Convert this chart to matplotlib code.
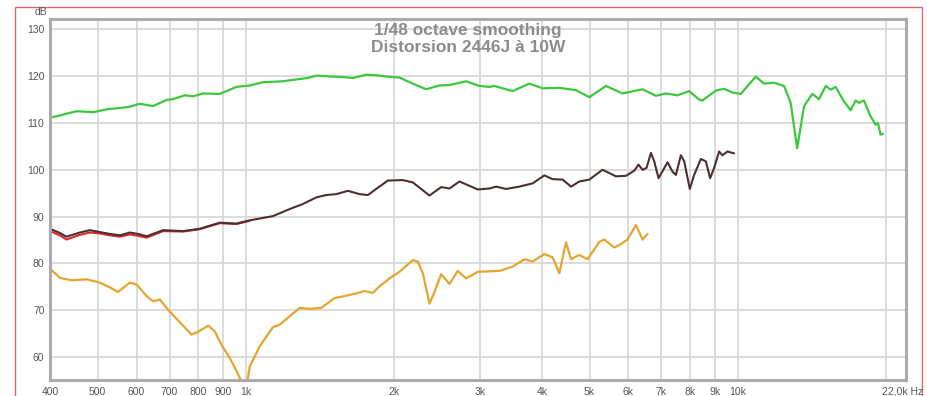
import matplotlib
matplotlib.use("Agg")
import matplotlib.pyplot as plt
from matplotlib.patches import Rectangle
from matplotlib.ticker import FixedLocator, NullLocator

# Fundamental (green)
fund_hz = [400, 426, 453, 490, 521, 555, 577, 609, 648, 690, 712, 752, 782, 819, 886,
           914, 957, 1019, 1084, 1191, 1268, 1338, 1392, 1504, 1576, 1652, 1759, 1842,
           1930, 2054, 2186, 2327, 2477, 2596, 2806, 2987, 3129, 3203, 3488, 3772, 4015,
           4341, 4693, 4995, 5400, 5836, 6409, 6823, 7150, 7548, 7971, 8352, 8482, 9031,
           9389, 9759, 10150, 10890, 11320, 11860, 12430, 12820, 13220, 13650, 14190,
           14640, 15110, 15460, 15830, 16450, 16980, 17380, 17650, 18070, 18640, 19080,
           19290, 19530, 19740]
fund_db = [111.1, 111.8, 112.5, 112.3, 112.9, 113.2, 113.4, 114.1, 113.6, 114.9, 115.1,
           115.9, 115.7, 116.3, 116.2, 116.8, 117.7, 118.0, 118.7, 118.9, 119.3, 119.6,
           120.1, 119.9, 119.8, 119.6, 120.3, 120.2, 119.9, 119.7, 118.4, 117.2, 118.0,
           118.1, 118.9, 117.9, 117.7, 117.9, 116.8, 118.4, 117.4, 117.5, 117.0, 115.5,
           117.9, 116.3, 117.2, 115.8, 116.3, 115.9, 116.8, 115.0, 114.8, 116.9, 117.3,
           116.5, 116.2, 119.9, 118.4, 118.6, 117.9, 114.3, 104.6, 113.6, 116.2, 115.1,
           117.9, 117.1, 117.7, 114.6, 112.7, 114.8, 114.3, 114.8, 111.4, 109.6, 110.0,
           107.5, 107.7]

# 2nd harmonic (brown)
h2_hz = [400, 419, 432, 460, 482, 505, 529, 555, 581, 604, 629, 679, 746, 806, 886, 957,
         1019, 1136, 1228, 1307, 1392, 1458, 1528, 1613, 1704, 1771, 1842, 1945, 2086,
         2186, 2364, 2497, 2596, 2720, 2963, 3129, 3228, 3383, 3600, 3832, 4047, 4207,
         4409, 4585, 4767, 4995, 5314, 5657, 5929, 6164, 6290, 6409, 6530, 6666, 6769,
         6907, 7205, 7374, 7492, 7669, 7789, 7997, 8160, 8420, 8619, 8794, 8960, 9172,
         9314, 9535, 9838]
h2_db = [87.4, 86.5, 85.7, 86.6, 87.1, 86.7, 86.3, 86.0, 86.6, 86.3, 85.8, 87.1, 86.9,
         87.4, 88.7, 88.5, 89.2, 90.1, 91.6, 92.7, 94.1, 94.6, 94.8, 95.5, 94.8, 94.6,
         95.9, 97.7, 97.8, 97.3, 94.5, 96.3, 96.0, 97.5, 95.8, 96.0, 96.4, 95.9, 96.4,
         97.1, 98.8, 98.0, 97.9, 96.4, 97.5, 97.9, 100.0, 98.6, 98.7, 99.8, 101.1, 100.0,
         100.4, 103.6, 101.8, 98.2, 101.6, 99.6, 98.9, 103.1, 101.8, 95.9, 98.9, 102.3,
         101.8, 98.2, 100.4, 103.9, 103.1, 103.9, 103.5]

# Total distortion (red), mostly hidden under the 2nd harmonic
thd_hz = [400, 419, 432, 460, 482, 505, 529, 555, 581, 604, 629, 679, 746, 806, 886,
          957, 1019]
thd_db = [86.9, 86.0, 85.1, 86.1, 86.6, 86.4, 86.0, 85.7, 86.2, 85.9, 85.5, 86.9, 86.8,
          87.3, 88.6, 88.4, 89.1]

# 3rd harmonic (orange)
h3_hz = [400, 419, 443, 475, 505, 529, 550, 581, 600, 629, 648, 669, 695, 735, 776, 800,
         839, 865, 893, 928, 957, 980, 993, 1003, 1019, 1068, 1136, 1172, 1228, 1287,
         1349, 1424, 1516, 1601, 1678, 1744, 1813, 1871, 1961, 2054, 2186, 2238, 2291,
         2364, 2420, 2497, 2596, 2698, 2806, 2963, 3280, 3488, 3686, 3832, 4047, 4207,
         4341, 4479, 4585, 4767, 4955, 5234, 5357, 5613, 5745, 5972, 6214, 6409, 6560]
h3_db = [78.9, 76.9, 76.4, 76.6, 75.9, 74.9, 73.9, 75.9, 75.5, 73.0, 71.9, 72.3, 70.1,
         67.4, 64.8, 65.4, 66.7, 65.5, 62.6, 59.8, 57.1, 54.8, 52.0, 53.5, 58.0, 62.3,
         66.4, 66.9, 68.7, 70.5, 70.3, 70.5, 72.6, 73.1, 73.6, 74.1, 73.7, 75.1, 76.8,
         78.2, 80.7, 80.4, 77.9, 71.4, 73.9, 77.7, 75.6, 78.4, 76.8, 78.2, 78.4, 79.3,
         80.9, 80.4, 82.0, 81.3, 77.9, 84.5, 80.9, 81.8, 80.9, 84.6, 85.1, 83.4, 83.9,
         85.1, 88.2, 85.1, 86.3]

grid_hz = [400, 500, 600, 700, 800, 900, 1000, 2000, 3000, 4000, 5000, 6000, 7000, 8000,
           9000, 10000, 20000]
grid_labels = ["400", "500", "600", "700", "800", "900", "1k", "2k", "3k", "4k", "5k",
               "6k", "7k", "8k", "9k", "10k", ""]
db_ticks = [60, 70, 80, 90, 100, 110, 120, 130]

plt.rcParams["font.family"] = ["Liberation Sans", "DejaVu Sans"]

fig = plt.figure(figsize=(9.28, 3.96), dpi=100)
# thin red frame around the whole window
fig.patches.append(Rectangle((15 / 928, -0.1), 907 / 928, 1.1 - 7 / 396,
                             transform=fig.transFigure, fill=False,
                             edgecolor="#e06666", linewidth=1.0))

ax = fig.add_axes([50 / 928, 1 - 380 / 396, 856 / 928, 361 / 396])
ax.set_xscale("log")
ax.set_xlim(400, 22000)
ax.set_ylim(55.1, 132.2)

ax.xaxis.set_major_locator(FixedLocator(grid_hz))
ax.xaxis.set_minor_locator(NullLocator())
ax.set_xticklabels(grid_labels)
ax.set_yticks(db_ticks)
ax.grid(True, color="#d6d6d6", linewidth=1.2)
ax.set_axisbelow(True)
ax.tick_params(length=0, labelsize=7.5, colors="#555555")
ax.tick_params(axis="x", pad=5)
ax.tick_params(axis="y", pad=4)
for s in ax.spines.values():
    s.set_color("#ababab")
    s.set_linewidth(2.2)

line_kw = dict(solid_joinstyle="round", solid_capstyle="round")
ax.plot(fund_hz, fund_db, color="#3cc83c", linewidth=1.6, **line_kw)
ax.plot(thd_hz, thd_db, color="#e02828", linewidth=1.5, **line_kw)
ax.plot(h2_hz, h2_db, color="#4d2f31", linewidth=1.5, **line_kw)
ax.plot(h3_hz, h3_db, color="#e5a52e", linewidth=1.6, **line_kw)

fig.text(468 / 928, 1 - 30 / 396, "1/48 octave smoothing", ha="center", va="center",
         fontsize=12.5, fontweight="bold", color="#8c8c8c")
fig.text(468 / 928, 1 - 48 / 396, "Distorsion 2446J à 10W", ha="center", va="center",
         fontsize=12.5, fontweight="bold", color="#8c8c8c")
fig.text(41 / 928, 1 - 12 / 396, "dB", ha="center", va="center", fontsize=7.5,
         color="#555555")
fig.text(903 / 928, 1 - 391 / 396, "22,0k Hz", ha="center", va="center", fontsize=7.5,
         color="#555555")

fig.savefig("out.png", dpi=100)
